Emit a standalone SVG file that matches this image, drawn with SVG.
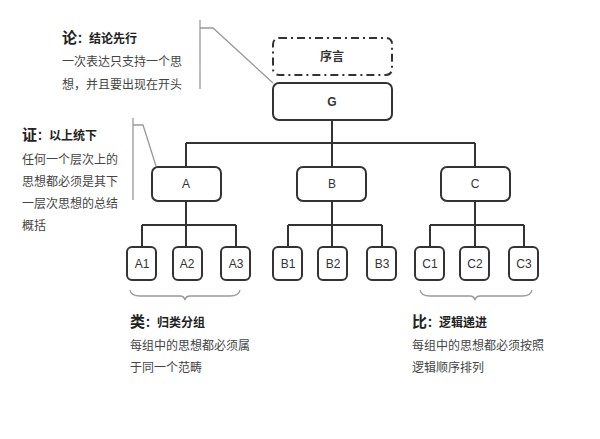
<svg xmlns="http://www.w3.org/2000/svg" width="600" height="439" viewBox="0 0 600 439">
<style>
.n{fill:#fff;stroke:#333;stroke-width:2}
.t{font-family:"Liberation Sans","Noto Sans CJK SC",sans-serif;font-size:12px;fill:#333;text-anchor:middle}
.c{stroke:#333;stroke-width:2;fill:none}
.g{stroke:#999;stroke-width:1.3;fill:none}
.h{font-family:"Noto Sans CJK SC",sans-serif;font-size:12px;font-weight:bold;fill:#222}
.b{font-family:"Noto Sans CJK SC",sans-serif;font-size:12px;fill:#444}
</style>
<rect width="600" height="439" fill="#fff"/>
<g id="connectors">
<path class="c" d="M332 120V167M186 143H475M186 143V167M475 143V167"/>
<path class="c" d="M186 201V247M142 225H236M142 225V247M236 225V247"/>
<path class="c" d="M332 201V247M288 225H382M288 225V247M382 225V247"/>
<path class="c" d="M475 201V247M430 225H524M430 225V247M524 225V247"/>
<path class="g" d="M200 20V89M200 28H213L273 83"/>
<path class="g" d="M133 118V200M133 125H143L156 166"/>
<path class="g" d="M130 290Q131 296 140 296H180Q184 296 185 300Q186 296 190 296H230Q239 296 240 290"/>
<path class="g" d="M420 290Q421 296 430 296H470Q474 296 475 300Q476 296 480 296H522Q531 296 532 290"/>
</g>
<g id="preface"><rect x="273" y="38" width="119" height="37" rx="6" fill="#fff" stroke="#333" stroke-width="2" stroke-dasharray="8,4,2,4"/><text class="t" x="332" y="61" font-weight="bold" font-size="11">序言</text></g>
<g id="G"><rect class="n" x="273" y="83" width="119" height="37" rx="6"/><text class="t" x="332" y="106" font-weight="bold">G</text></g>
<g id="A"><rect class="n" x="152" y="167" width="69" height="34" rx="6"/><text class="t" x="186" y="188">A</text></g>
<g id="B"><rect class="n" x="297" y="167" width="69" height="34" rx="6"/><text class="t" x="332" y="188">B</text></g>
<g id="C"><rect class="n" x="441" y="167" width="69" height="34" rx="6"/><text class="t" x="475" y="188">C</text></g>
<g id="A1"><rect class="n" x="127" y="247" width="29" height="33" rx="5"/><text class="t" x="142" y="268">A1</text></g>
<g id="A2"><rect class="n" x="173" y="247" width="29" height="33" rx="5"/><text class="t" x="187" y="268">A2</text></g>
<g id="A3"><rect class="n" x="221" y="247" width="29" height="33" rx="5"/><text class="t" x="236" y="268">A3</text></g>
<g id="B1"><rect class="n" x="273" y="247" width="29" height="33" rx="5"/><text class="t" x="288" y="268">B1</text></g>
<g id="B2"><rect class="n" x="318" y="247" width="29" height="33" rx="5"/><text class="t" x="333" y="268">B2</text></g>
<g id="B3"><rect class="n" x="367" y="247" width="29" height="33" rx="5"/><text class="t" x="382" y="268">B3</text></g>
<g id="C1"><rect class="n" x="415" y="247" width="29" height="33" rx="5"/><text class="t" x="430" y="268">C1</text></g>
<g id="C2"><rect class="n" x="460" y="247" width="29" height="33" rx="5"/><text class="t" x="475" y="268">C2</text></g>
<g id="C3"><rect class="n" x="509" y="247" width="29" height="33" rx="5"/><text class="t" x="524" y="268">C3</text></g>
<g id="note1"><text class="h" x="62" y="43"><tspan font-size="15">论</tspan>：结论先行</text><text class="b" x="62" y="66">一次表达只支持一个思</text><text class="b" x="62" y="89">想，并且要出现在开头</text></g>
<g id="note2"><text class="h" x="22" y="140"><tspan font-size="15">证</tspan>：以上统下</text><text class="b" x="22" y="164">任何一个层次上的</text><text class="b" x="22" y="186">思想都必须是其下</text><text class="b" x="22" y="208">一层次思想的总结</text><text class="b" x="22" y="230">概括</text></g>
<g id="note3"><text class="h" x="130" y="327"><tspan font-size="15">类</tspan>：归类分组</text><text class="b" x="130" y="350">每组中的思想都必须属</text><text class="b" x="130" y="372">于同一个范畴</text></g>
<g id="note4"><text class="h" x="412" y="327"><tspan font-size="15">比</tspan>：逻辑递进</text><text class="b" x="412" y="350">每组中的思想都必须按照</text><text class="b" x="412" y="372">逻辑顺序排列</text></g>
</svg>
